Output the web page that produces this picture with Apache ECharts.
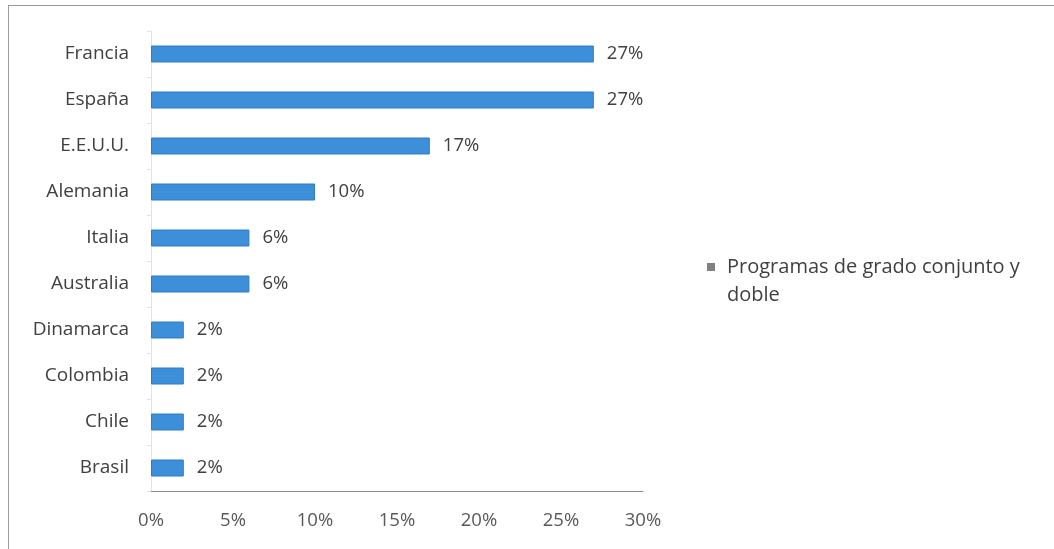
<!DOCTYPE html>
<html>
<head>
<meta charset="utf-8">
<script src="https://cdn.jsdelivr.net/npm/echarts@6/dist/echarts.min.js"></script>
<style>
html,body{margin:0;padding:0;background:#fff;}
#frame{position:absolute;left:8px;top:5px;width:1060px;height:560px;border:1px solid #9a9a9a;box-sizing:border-box;}
#chart{position:absolute;left:0;top:0;width:1054px;height:549px;}
</style>
</head>
<body>
<div id="frame"></div>
<div id="chart"></div>
<script>
const categories = ["Francia","España","E.E.U.U.","Alemania","Italia","Australia","Dinamarca","Colombia","Chile","Brasil"];
const values = [27, 27, 17, 10, 6, 6, 2, 2, 2, 2];
const seriesName = "Programas de grado conjunto y doble";
const xTicks = [0, 5, 10, 15, 20, 25, 30];

const chart = echarts.init(document.getElementById('chart'));
const font = "'Open Sans', 'Liberation Sans', sans-serif";
chart.setOption({
  animation: false,
  backgroundColor: 'transparent',
  textStyle: {fontFamily: font},
  grid: {left: 151, right: 411, top: 31, bottom: 58, containLabel: false},
  xAxis: {
    type: 'value', min: xTicks[0], max: xTicks[xTicks.length-1], interval: 5,
    axisLine: {show: true, lineStyle: {color: '#8c8c8c', width: 1}},
    axisTick: {show: false},
    splitLine: {show: false},
    axisLabel: {formatter: v => v + '%', color: '#595959', fontSize: 18.5, margin: 20, fontFamily: font}
  },
  yAxis: {
    type: 'category', data: categories, inverse: true,
    axisLine: {show: true, lineStyle: {color: '#e3e3e3'}},
    axisTick: {show: true, length: 4, lineStyle: {color: '#e3e3e3'}},
    axisLabel: {color: '#404040', fontSize: 19, margin: 22, fontFamily: font}
  },
  legend: {
    show: true, orient: 'vertical', left: 702, top: 248,
    itemWidth: 8, itemHeight: 36, itemGap: 0,
    icon: 'path://M0,0h8v8h-8z M0,36h0.01v0.01h-0.01z',
    formatter: () => 'Programas de grado conjunto y\ndoble',
    textStyle: {color: '#404040', fontSize: 20, lineHeight: 28, padding: [0, 0, 0, 7], fontFamily: font},
    data: [{name: seriesName, itemStyle: {color: '#808080', borderWidth: 0}}]
  },
  series: [{
    name: seriesName, type: 'bar', data: values, barWidth: 17,
    itemStyle: {color: '#3d8fd9', borderColor: '#2f7cc4', borderWidth: 1},
    label: {show: true, position: 'right', distance: 13, formatter: p => p.value + '%', color: '#404040', fontSize: 18.5, fontFamily: font}
  }]
});
</script>
</body>
</html>
